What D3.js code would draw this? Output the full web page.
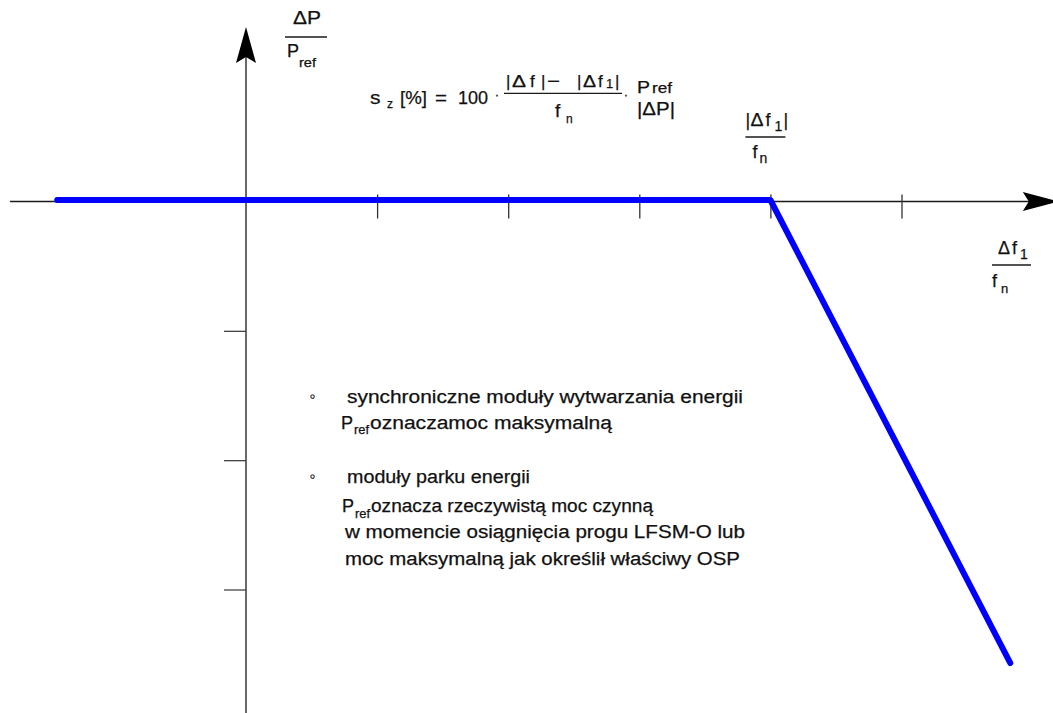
<!DOCTYPE html>
<html>
<head>
<meta charset="utf-8">
<script src="https://cdn.jsdelivr.net/npm/d3@7"></script>
<style>
  html, body { margin: 0; padding: 0; background: #fff; }
  svg { display: block; }
  text { font-family: "Liberation Sans", Arial, sans-serif; fill: #111; stroke: #111; stroke-width: 0.25px; }
</style>
</head>
<body>
<svg id="chart" width="1053" height="713"></svg>
<script>
// Frequency deviation (in units of the tick step) and relative power change
const xTicks = [1, 2, 3, 4, 5];
const yTicks = [-1, -2, -3];
const axisX = [-1.8, 6.2];      // extent of the horizontal axis
const axisY = [-3.96, 1.35];    // extent of the vertical axis

// LFSM-O droop characteristic: flat until |Δf1|/fn, then falling
const droopX = [-1.44, 4, 5.83];
const droopY = [0, 0, -3.58];
const kneeX = 4;

// Explanatory notes
const note1 = ["synchroniczne moduły wytwarzania energii", "oznaczamoc maksymalną"];
const note2 = ["moduły parku energii", "oznacza rzeczywistą moc czynną",
               "w momencie osiągnięcia progu LFSM-O lub",
               "moc maksymalną jak określił właściwy OSP"];

const svg = d3.select("#chart");
const x = d3.scaleLinear().domain([0, 5]).range([246, 901.5]);
const y = d3.scaleLinear().domain([0, -3]).range([201.5, 589.5]);

const ink = "#1a1a1a";

// Horizontal axis with arrowhead
svg.append("line")
  .attr("x1", x(axisX[0])).attr("x2", x(axisX[1]) - 20)
  .attr("y1", y(0)).attr("y2", y(0))
  .attr("stroke", ink).attr("stroke-width", 1.3);
{
  const tx = x(axisX[1]), ty = y(0);
  svg.append("path")
    .attr("d", `M${tx},${ty} L${tx - 36},${ty - 9.5} L${tx - 30},${ty} L${tx - 36},${ty + 9.5} Z`)
    .attr("fill", "#000");
}

// Vertical axis with arrowhead
svg.append("line")
  .attr("x1", x(0)).attr("x2", x(0))
  .attr("y1", y(axisY[0])).attr("y2", y(axisY[1]) + 20)
  .attr("stroke", ink).attr("stroke-width", 1.3);
{
  const tx = x(0), ty = y(axisY[1]);
  svg.append("path")
    .attr("d", `M${tx},${ty} L${tx - 10},${ty + 36} L${tx},${ty + 30} L${tx + 10},${ty + 36} Z`)
    .attr("fill", "#000");
}

// Tick marks
const xAxis = d3.axisBottom(x).tickValues(xTicks).tickSize(17).tickFormat("");
const gx = svg.append("g").attr("transform", `translate(0,${y(0)})`).call(xAxis);
gx.select(".domain").remove();
gx.selectAll(".tick line").attr("y1", -7).attr("stroke", "#333").attr("stroke-width", 1.3);

const yAxis = d3.axisLeft(y).tickValues(yTicks).tickSize(22).tickFormat("");
const gy = svg.append("g").attr("transform", `translate(${x(0)},0)`).call(yAxis);
gy.select(".domain").remove();
gy.selectAll(".tick line").attr("stroke", "#444").attr("stroke-width", 1.3);

// Droop line
const line = d3.line().x(d => x(d[0])).y(d => y(d[1]) - 1.5);
svg.append("path")
  .datum(droopX.map((v, i) => [v, droopY[i]]))
  .attr("d", line)
  .attr("fill", "none")
  .attr("stroke", "#0000ff")
  .attr("stroke-width", 6)
  .attr("stroke-linejoin", "round")
  .attr("stroke-linecap", "round");

// Text helpers: the drawing font is wider than Arial, so runs get an explicit width
function txt(px, py, s, size, len, anchor) {
  const t = svg.append("text")
    .attr("x", px).attr("y", py)
    .attr("font-size", size)
    .attr("text-anchor", anchor || "start")
    .text(s);
  if (len) t.attr("textLength", len).attr("lengthAdjust", "spacingAndGlyphs");
  return t;
}
function rule(x1, x2, py) {
  svg.append("line").attr("x1", x1).attr("x2", x2).attr("y1", py).attr("y2", py)
    .attr("stroke", ink).attr("stroke-width", 1.3);
}

// Vertical axis label ΔP / Pref
txt(293, 24, "ΔP", 18, 28);
rule(285, 327, 37);
txt(287, 57, "P", 18);
txt(299, 67, "ref", 13, 17);

// Horizontal axis label Δf1 / fn
txt(998, 254, "Δ", 18, 12);
txt(1012, 254, "f", 18);
txt(1020, 259, "1", 14);
rule(992, 1031, 265);
txt(992, 287, "f", 18);
txt(1001, 293, "n", 13);

// Knee label |Δf1| / fn
const kx = x(kneeX);
txt(kx - 25, 126, "|", 18);
txt(kx - 20, 126, "Δ", 18, 13);
txt(kx - 5, 126, "f", 18);
txt(kx + 4, 131, "1", 14);
txt(kx + 13, 126, "|", 18);
rule(kx - 25, kx + 15, 137);
txt(kx - 18, 158, "f", 18);
txt(kx - 11, 163, "n", 14);

// Droop formula
txt(370, 104, "s", 19, 10.5);
txt(387, 108, "z", 12);
txt(400, 104, "[%]", 19, 27);
txt(435, 104, "=", 19, 12);
txt(458, 104, "100", 19, 30);
txt(497, 99, "·", 13, null, "middle");
txt(506, 87, "|", 17);
txt(512, 87, "Δ", 17, 14);
txt(530, 87, "f", 17);
txt(541, 87, "|", 17);
txt(547, 87, "−", 17, 13);
txt(577, 87, "|", 17);
txt(583, 87, "Δ", 17, 13);
txt(598, 87, "f", 17);
txt(606, 88, "1", 13);
txt(615, 87, "|", 17);
rule(504, 622, 93.3);
txt(555, 117, "f", 19);
txt(566, 123, "n", 12);
txt(626, 99, "·", 13, null, "middle");
txt(637, 93, "P", 16, 13);
txt(652, 93, "ref", 14, 20);
txt(637, 115, "|ΔP|", 18, 38);

// Notes
txt(312.5, 402, "◦", 17, null, "middle");
txt(347, 403, note1[0], 18, 396);
txt(341, 429, "P", 18);
txt(354, 434, "ref", 12, 15);
txt(370, 429, note1[1], 18, 242);

txt(312.5, 482, "◦", 17, null, "middle");
txt(347, 483, note2[0], 18, 183);
txt(342, 512, "P", 18);
txt(355, 518, "ref", 12, 15);
txt(371, 512, note2[1], 18, 282);
txt(345, 538, note2[2], 18, 400);
txt(345, 565, note2[3], 18, 395);
</script>
</body>
</html>
